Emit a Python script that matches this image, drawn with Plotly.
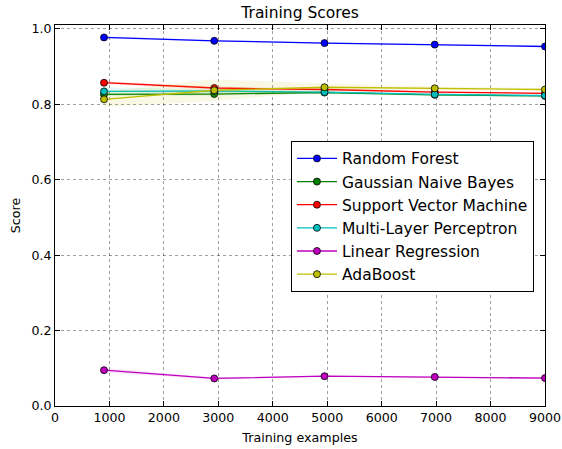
import plotly.graph_objects as go

# Training-set sizes used for each learning curve
train_sizes = [900, 2925, 4950, 6975, 9000]

# Mean training score per model and the spread (std) across folds
model_names = [
    "Random Forest",
    "Gaussian Naive Bayes",
    "Support Vector Machine",
    "Multi-Layer Perceptron",
    "Linear Regression",
    "AdaBoost",
]
rf_mean = [0.977, 0.968, 0.962, 0.958, 0.953]
rf_std = [0.003, 0.002, 0.002, 0.002, 0.002]
gnb_mean = [0.826, 0.827, 0.831, 0.825, 0.822]
gnb_std = [0.004, 0.004, 0.003, 0.003, 0.003]
svm_mean = [0.857, 0.843, 0.839, 0.832, 0.829]
svm_std = [0.004, 0.004, 0.003, 0.003, 0.002]
mlp_mean = [0.834, 0.835, 0.832, 0.826, 0.823]
mlp_std = [0.010, 0.006, 0.004, 0.003, 0.003]
lr_mean = [0.095, 0.073, 0.079, 0.077, 0.074]
lr_std = [0.006, 0.003, 0.002, 0.002, 0.002]
ada_mean = [0.813, 0.837, 0.845, 0.842, 0.839]
ada_std = [0.020, 0.029, 0.010, 0.005, 0.004]

means = [rf_mean, gnb_mean, svm_mean, mlp_mean, lr_mean, ada_mean]
stds = [rf_std, gnb_std, svm_std, mlp_std, lr_std, ada_std]
colors = ["#0000ff", "#008000", "#ff0000", "#00bfbf", "#bf00bf", "#bfbf00"]
fills = [
    "rgba(0,0,255,0.1)",
    "rgba(0,128,0,0.1)",
    "rgba(255,0,0,0.1)",
    "rgba(0,191,191,0.1)",
    "rgba(191,0,191,0.1)",
    "rgba(191,191,0,0.1)",
]

FONT = "DejaVu Sans"

fig = go.Figure()
for name, m, s, c, fc in zip(model_names, means, stds, colors, fills):
    upper = [a + b for a, b in zip(m, s)]
    lower = [a - b for a, b in zip(m, s)]
    # shaded band of +/- one standard deviation
    fig.add_trace(go.Scatter(
        x=train_sizes + train_sizes[::-1],
        y=upper + lower[::-1],
        fill="toself", fillcolor=fc, line=dict(width=0),
        mode="lines", hoverinfo="skip", showlegend=False,
    ))
    # mean curve with markers
    fig.add_trace(go.Scatter(
        x=train_sizes, y=m, name=name, legendgroup=name,
        mode="lines+markers",
        line=dict(color=c, width=1.3),
        marker=dict(color=c, size=7, line=dict(color="black", width=0.8)),
    ))

axis_common = dict(
    showline=True, linecolor="black", linewidth=1, mirror="allticks",
    ticks="inside", ticklen=5, tickcolor="black",
    showgrid=True, gridcolor="rgba(0,0,0,0.38)", griddash="dot", gridwidth=0.7,
    zeroline=False, automargin=False,
    tickfont=dict(family=FONT, size=12.6, color="black"),
    title_font=dict(family=FONT, size=12.7, color="black"),
)

fig.update_layout(
    width=562, height=449,
    margin=dict(l=55, r=17, t=25, b=43),
    paper_bgcolor="white", plot_bgcolor="white",
    title=dict(text="Training Scores", x=0.534, xanchor="center",
               y=0.973, yanchor="middle",
               font=dict(family=FONT, size=15.5, color="black")),
    xaxis=dict(range=[0, 9000], dtick=1000, title=dict(text="Training examples", standoff=8),
               **axis_common),
    yaxis=dict(range=[0, 1.01], dtick=0.2, tickformat=".1f",
               title=dict(text="Score", standoff=8), **axis_common),
    legend=dict(x=0.4816, y=0.696, xanchor="left", yanchor="top",
                bgcolor="white", bordercolor="black", borderwidth=1,
                font=dict(family=FONT, size=15.5, color="black"),
                tracegroupgap=0, itemwidth=40),
    showlegend=True,
)

fig.write_html("out.html")
